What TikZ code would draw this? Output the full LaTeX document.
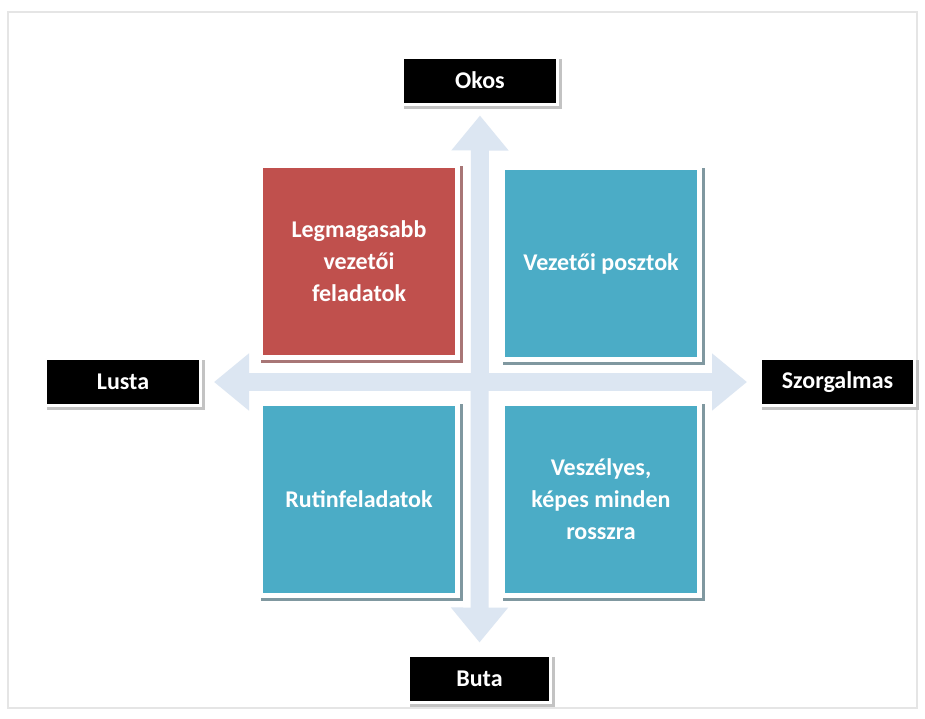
\documentclass[tikz,border=0pt]{standalone}
\usepackage{fontspec}
\setmainfont{Carlito}
\usetikzlibrary{arrows.meta, shadows}
\definecolor{leadred}{RGB}{192,80,77}
\definecolor{quadblue}{RGB}{75,172,198}
\definecolor{crossblue}{RGB}{220,230,242}
\definecolor{redshade}{RGB}{168,118,118}
\definecolor{blueshade}{RGB}{128,152,160}
\definecolor{tagshade}{RGB}{195,195,195}

\begin{document}
\begin{tikzpicture}[x=1pt, y=-1pt]

    \tikzstyle{quad} = [rectangle, minimum width=197pt, minimum height=192pt, inner sep=0pt, align=center, text=white, font=\fontsize{24}{32}\selectfont\bfseries, draw=white, line width=5pt]
    \tikzstyle{redquad} = [quad, fill=leadred, drop shadow={shadow xshift=3pt, shadow yshift=-3pt, fill=redshade, draw=redshade, line width=5pt, opacity=1}]
    \tikzstyle{bluequad} = [quad, fill=quadblue, drop shadow={shadow xshift=3pt, shadow yshift=-3pt, fill=blueshade, draw=blueshade, line width=5pt, opacity=1}]
    \tikzstyle{tag} = [rectangle, minimum height=47pt, inner sep=0pt, text=white, font=\fontsize{24}{28}\selectfont\bfseries, fill=black, draw=white, line width=3pt, drop shadow={shadow xshift=3pt, shadow yshift=-3pt, fill=tagshade, draw=tagshade, line width=3pt, opacity=1}]
    \tikzstyle{crossarrow} = [crossblue, line width=18pt, {Triangle[length=35pt, width=55pt]}-{Triangle[length=35pt, width=55pt]}]

    % page and frame
    \useasboundingbox (0,0) rectangle (925,718);
    \fill[white] (0,0) rectangle (925,718);
    \draw[black!10, line width=2pt] (8,12) rectangle (917,708);

    % axis labels
    \node[tag, minimum width=155pt] (okos)  at (480,80.5)  {Okos};
    \node[tag, minimum width=155pt] (lusta) at (123,382)   {Lusta};
    \node[tag, minimum width=154pt] (szorg) at (837.5,382) {Szorgalmas};
    \node[tag, minimum width=142pt] (buta)  at (479.5,678.5) {Buta};

    % cross
    \draw[crossarrow, shorten <=12pt, shorten >=12pt] (lusta) -- (szorg);
    \draw[crossarrow, shorten <=10pt, shorten >=11pt] (okos) -- (buta);

    % quadrants
    \node[redquad]  (lead)    at (359,261.5) {Legmagasabb\\vezetői\\feladatok};
    \node[bluequad] (posts)   at (601,263.5) {Vezetői posztok};
    \node[bluequad] (routine) at (359,499.5) {Rutinfeladatok};
    \node[bluequad] (danger)  at (601,499.5) {Veszélyes,\\képes minden\\rosszra};

\end{tikzpicture}
\end{document}
